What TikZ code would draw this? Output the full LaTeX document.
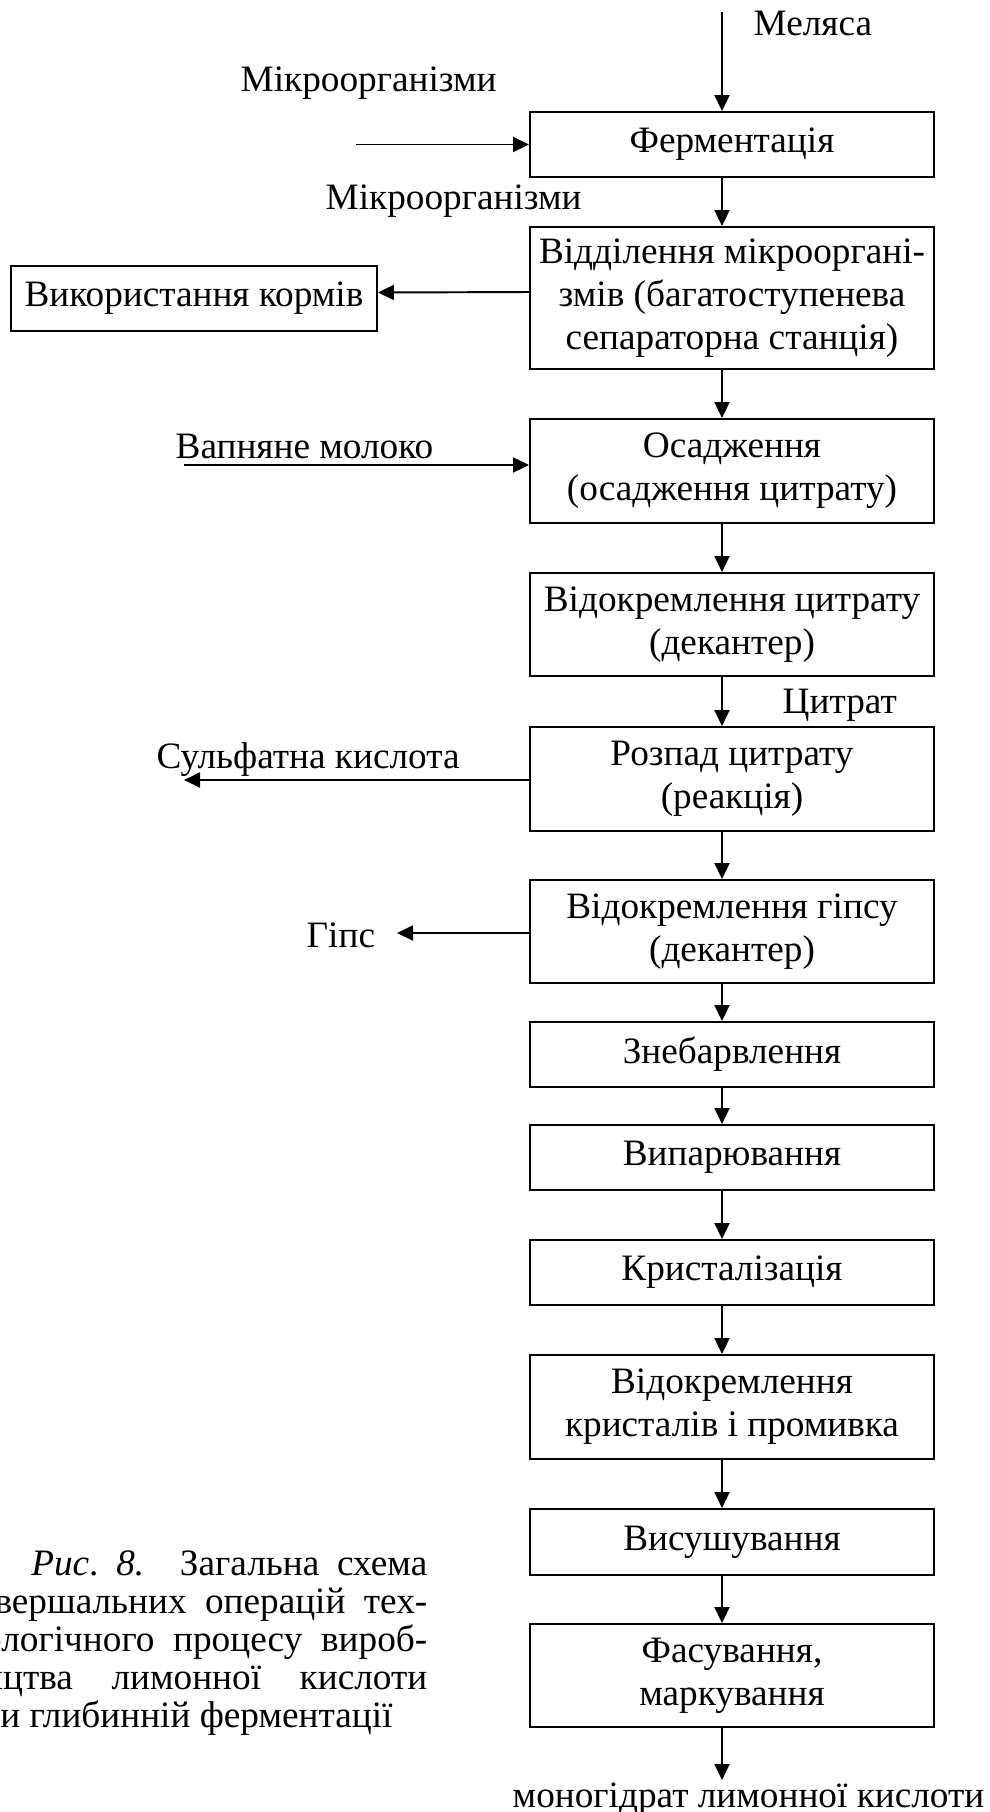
\documentclass[tikz,border=0pt]{standalone}
\usepackage{fontspec}
\setmainfont{Liberation Serif}
\usepackage{tikz}
\usetikzlibrary{arrows.meta}

\tikzset{
  stage/.style={draw, line width=0.55pt, minimum width=4.04cm, inner sep=0pt,
    align=center, font=\fontsize{10.6}{12.2}\selectfont},
  lbl/.style={inner sep=0pt, font=\fontsize{10.6}{12.2}\selectfont},
  arr/.style={line width=0.55pt, -{Triangle[length=0.16cm,width=0.15cm]}}
}

\begin{document}
\begin{tikzpicture}
            % Fix the page size
            \useasboundingbox (0,0) rectangle (9.89,-18.12);
            \clip (0,0) rectangle (9.89,-18.12);

            % Define the column of the arrows
            \coordinate (ax) at (7.22,0);

            % Define the process stages
            \node[stage, minimum height=0.65cm] (ferm) at (7.32,-1.445) {Ферментація};
            \node[stage, minimum height=1.42cm] (sep) at (7.32,-2.98) {Відділення мікрооргані-\\змів (багатоступенева\\сепараторна станція)};
            \node[stage, minimum height=1.04cm] (osad) at (7.32,-4.71) {Осадження\\(осадження цитрату)};
            \node[stage, minimum height=1.03cm] (decit) at (7.32,-6.245) {Відокремлення цитрату\\(декантер)};
            \node[stage, minimum height=1.04cm] (rozpad) at (7.32,-7.79) {Розпад цитрату\\(реакція)};
            \node[stage, minimum height=1.03cm] (degyps) at (7.32,-9.315) {Відокремлення гіпсу\\(декантер)};
            \node[stage, minimum height=0.65cm] (zneb) at (7.32,-10.545) {Знебарвлення};
            \node[stage, minimum height=0.65cm] (vypar) at (7.32,-11.575) {Випарювання};
            \node[stage, minimum height=0.65cm] (kryst) at (7.32,-12.725) {Кристалізація};
            \node[stage, minimum height=1.04cm] (dekryst) at (7.32,-14.07) {Відокремлення\\кристалів і промивка};
            \node[stage, minimum height=0.66cm] (sush) at (7.32,-15.42) {Висушування};
            \node[stage, minimum height=1.03cm] (fas) at (7.32,-16.755) {Фасування,\\маркування};

            % Define the side box
            \node[stage, minimum width=3.66cm, minimum height=0.65cm] (korm) at (1.94,-2.985) {Використання кормів};

            % Inputs and outputs
            \node[lbl, anchor=base west] (melasa) at (7.53,-0.35) {Меляса};
            \node[lbl, anchor=base west] (mikro1) at (2.40,-0.91) {Мікроорганізми};
            \node[lbl, anchor=base west] (mikro2) at (3.25,-2.09) {Мікроорганізми};
            \node[lbl, anchor=base west] (milk) at (1.75,-4.58) {Вапняне молоко};
            \node[lbl, anchor=base west] (citrat) at (7.82,-7.13) {Цитрат};
            \node[lbl, anchor=base west] (acid) at (1.56,-7.68) {Сульфатна кислота};
            \node[lbl, anchor=base west] (gyps) at (3.06,-9.47) {Гіпс};
            \node[lbl, anchor=base west] (product) at (5.12,-18.07) {моногідрат лимонної кислоти};

            % Free ends of the side arrows
            \coordinate (melin) at (7.22,-0.12);
            \coordinate (mikroin) at (3.56,-1.445);
            \coordinate (milkin) at (1.84,-4.65);
            \coordinate (acidout) at (1.84,-7.80);
            \coordinate (gypsout) at (3.97,-9.33);
            \coordinate (prodout) at (7.22,-17.80);

            % Side arrows
            \draw[arr] (melin) -- (melin |- ferm.north);
            \draw[arr] (mikroin) -- (ferm.west);
            \draw[arr] ([yshift=0.06cm]sep.west) -- ([yshift=0.06cm]korm.east);
            \draw[arr] (milkin) -- (milkin -| osad.west);
            \draw[arr] (acidout -| rozpad.west) -- (acidout);
            \draw[arr] (gypsout -| degyps.west) -- (gypsout);

            % Main flow
            \draw[arr] (ferm.south -| ax) -- (sep.north -| ax);
            \draw[arr] (sep.south -| ax) -- (osad.north -| ax);
            \draw[arr] (osad.south -| ax) -- (decit.north -| ax);
            \draw[arr] (decit.south -| ax) -- (rozpad.north -| ax);
            \draw[arr] (rozpad.south -| ax) -- (degyps.north -| ax);
            \draw[arr] (degyps.south -| ax) -- (zneb.north -| ax);
            \draw[arr] (zneb.south -| ax) -- (vypar.north -| ax);
            \draw[arr] (vypar.south -| ax) -- (kryst.north -| ax);
            \draw[arr] (kryst.south -| ax) -- (dekryst.north -| ax);
            \draw[arr] (dekryst.south -| ax) -- (sush.north -| ax);
            \draw[arr] (sush.south -| ax) -- (fas.north -| ax);
            \draw[arr] (fas.south -| ax) -- (prodout);

            % Caption
            \node[lbl, anchor=base east] (cap1) at (4.28,-15.75) {\makebox[3.96cm][s]{\textit{Рис}.\ \textit{8.}\ \ Загальна схема}};
            \node[lbl, anchor=base east] (cap2) at (4.28,-16.13) {\makebox[4.64cm][s]{завершальних операцій тех-}};
            \node[lbl, anchor=base east] (cap3) at (4.28,-16.51) {\makebox[4.64cm][s]{нологічного процесу вироб-}};
            \node[lbl, anchor=base east] (cap4) at (4.28,-16.89) {\makebox[4.64cm][s]{ництва лимонної кислоти}};
            \node[lbl, anchor=base west] (cap5) at (-0.39,-17.27) {при глибинній ферментації};

        \end{tikzpicture}
\end{document}
